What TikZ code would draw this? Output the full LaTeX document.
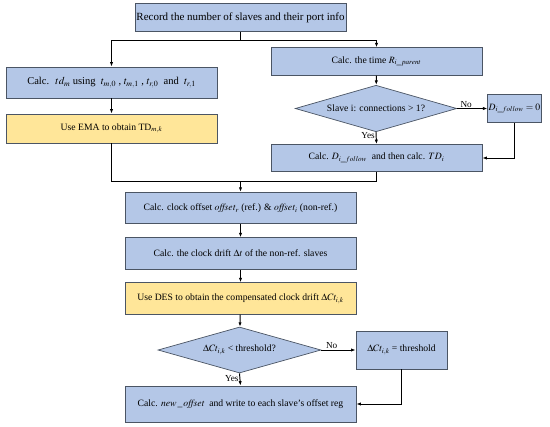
\documentclass[tikz,border=0pt]{standalone}
\usepackage{mathptmx}
\usepackage{fontspec}
\setmainfont{Liberation Serif}
\usepackage{tikz}
\usetikzlibrary{positioning, arrows.meta, shapes.geometric}
\definecolor{stepblue}{RGB}{180,199,231}
\definecolor{stepyel}{RGB}{255,230,153}
\definecolor{edge}{RGB}{75,85,100}

\begin{document}
\begin{tikzpicture}[x=0.4mm, y=-0.4mm, font=\fontsize{11}{13}\selectfont,
  box/.style={draw=edge, line width=0.8pt, fill=stepblue, align=center, inner sep=1pt, minimum width=84.4mm, minimum height=11mm},
  midbox/.style={box, minimum width=92.4mm, minimum height=12.6mm},
  ema/.style={fill=stepyel},
  dec/.style={diamond, draw=edge, line width=0.8pt, fill=stepblue, inner sep=0pt, aspect=3.45, minimum width=64.6mm, minimum height=18.6mm},
  ar/.style={-{Latex[length=1.8mm, width=1.3mm]}, line width=1.1pt},
  ln/.style={line width=1.1pt},
  lbl/.style={font=\fontsize{10.5}{12}\selectfont, inner sep=1pt}]
\useasboundingbox (0,0) rectangle (550,426);

% left / right branches
\node[box, font=\fontsize{12.5}{14}\selectfont] at (240.5,17.5) (rec) {Record the number of slaves and their port info};
\node[box, minimum height=12.4mm, font=\fontsize{12}{14}\selectfont] at (111.5,82.5) (calctd) {Calc.~ $td_m$ using~ $t_{m,0}$~, $t_{m,1}$~, $t_{r,0}$~ and~ $t_{r,1}$};
\node[box, ema, minimum height=11.6mm] at (111.5,128.5) (useema) {Use EMA to obtain TD$_{m,k}$};
\node[box] at (376.5,61.5) (rpar) {Calc. the time $R_{i\_parent}$};
\node[dec] at (376,108.5) (conn) {Slave i: connections > 1?};
\node[box, minimum width=20.4mm, minimum height=11.2mm] at (514.5,108.5) (dzero) {$D_{i\_follow} = 0$};
\node[box, minimum height=10.8mm] at (376.5,158) (calcd) {Calc. $D_{i\_follow}$~ and then calc. $TD_i$};

% common part
\node[midbox] at (240.5,208) (offs) {Calc. clock offset $\mathit{offset}_r$ (ref.) \& $\mathit{offset}_i$ (non-ref.)};
\node[midbox] at (240.5,253.5) (drift) {Calc. the clock drift $\Delta t$ of the non-ref. slaves};
\node[midbox, ema] at (240.5,298.5) (usedes) {Use DES to obtain the compensated clock drift $\Delta Ct_{i,k}$};
\node[dec, minimum width=65.2mm, minimum height=18.4mm] at (239.5,350) (thq) {$\Delta Ct_{i,k}$ < threshold?};
\node[box, minimum width=36.4mm, minimum height=15.2mm] at (401.5,350) (thset) {$\Delta Ct_{i,k}$ = threshold};
\node[midbox, minimum height=14.4mm] at (240.5,404) (newoff) {Calc. $\mathit{new\,\_\,offset}$~ and write to each slave's offset reg};

\coordinate (split) at (240.5,40);
\coordinate (merge) at (240.5,181);

% split to both branches
\draw[ln] (rec.south) -- (split);
\draw[ar] (split) -| (calctd.north);
\draw[ar] (split) -| (rpar.north);
\draw[ar] (calctd) -- (useema);
\draw[ar] (rpar) -- (conn);
\draw[ar] (conn.east) -- node[lbl, above, pos=0.3]{No} (dzero.west);
\draw[ar] (conn.south) -- node[lbl, left, pos=0.3]{Yes} (calcd.north);
\draw[ar] (dzero.south) |- (calcd.east);

% merge
\draw[ln] (useema.south) |- (merge);
\draw[ln] (calcd.south) |- (merge);
\draw[ar] (merge) -- (offs.north);
\draw[ar] (offs) -- (drift);
\draw[ar] (drift) -- (usedes);
\draw[ar] (usedes) -- (thq);
\draw[ar] (thq.east) -- node[lbl, above, pos=0.3]{No} (thset.west);
\draw[ar] (thq.south) -- node[lbl, left, pos=0.4]{Yes} (newoff.north);
\draw[ar] (thset.south) |- (newoff.east);
\end{tikzpicture}
\end{document}
